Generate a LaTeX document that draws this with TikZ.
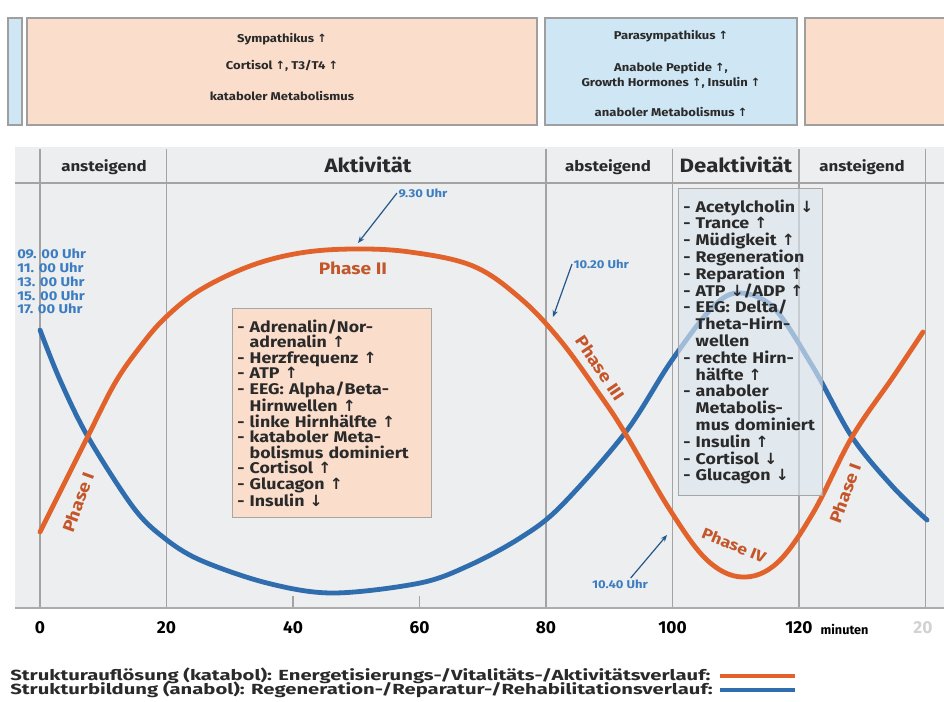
\documentclass[tikz,border=0pt]{standalone}
\usepackage{fontspec}
\setmainfont{Fira Sans}
\newfontfamily\arrowfont{DejaVu Sans}
\newfontfamily\widefont[FakeStretch=1.15]{Fira Sans}
\newfontfamily\legfont[FakeStretch=1.38]{Fira Sans}
\usetikzlibrary{positioning,arrows.meta}

\definecolor{katabol}{HTML}{E2622B}
\definecolor{anabol}{HTML}{2F6DAE}
\definecolor{salmon}{HTML}{FBDDCC}
\definecolor{skyblue}{HTML}{CFE7F5}
\definecolor{panelbg}{HTML}{ECEEEF}
\definecolor{gridgray}{HTML}{A3A3A3}
\definecolor{uhrblue}{HTML}{3C7DC1}
\definecolor{phasebrown}{HTML}{C4562A}
\definecolor{deakfill}{HTML}{DCE5EE}
\definecolor{textdark}{HTML}{2A2A2A}

\newcommand{\hup}{{\arrowfont\char"2191}}
\newcommand{\hdn}{{\arrowfont\char"2193}}
\newcommand{\ind}{\hphantom{- }}

\begin{document}
\begin{tikzpicture}[x=0.75pt, y=-0.75pt,
    topbox/.style={draw=gray!75, line width=1pt},
    toptext/.style={text=textdark, font=\widefont\fontsize{8.5}{9}\selectfont\bfseries},
    headtext/.style={text=textdark, font=\widefont\fontsize{11}{12}\selectfont\bfseries},
    bigheadtext/.style={text=textdark, font=\widefont\fontsize{14.5}{15}\selectfont\bfseries},
    gridline/.style={gridgray, line width=1.2pt},
    numlbl/.style={text=black, font=\fontsize{13}{14}\selectfont\bfseries},
    katline/.style={katabol, line width=3.6pt, line cap=round},
    analine/.style={anabol, line width=3.6pt, line cap=round},
    phasetext/.style={text=phasebrown, font=\widefont\fontsize{12.5}{13}\selectfont\bfseries},
    uhrtext/.style={text=uhrblue, font=\widefont\fontsize{8.5}{9}\selectfont\bfseries},
    uhrarrow/.style={anabol!80!black, line width=0.9pt, -{Stealth[length=5pt,width=4pt]}},
    listbox/.style={draw=gray!70, line width=1pt, align=left, anchor=north west,
      text=textdark, inner xsep=3.5pt, inner ysep=4pt}]

\useasboundingbox (0,0) rectangle (944,701);
\fill[white] (0,0) rectangle (944,701);

\filldraw[topbox, fill=skyblue] (8,18) rectangle (22,125);
\filldraw[topbox, fill=salmon] (27,18) rectangle (537,125);
\filldraw[topbox, fill=skyblue] (545,18) rectangle (797,125);
\filldraw[topbox, fill=salmon] (805,18) rectangle (950,125);

\node[toptext] (symp) at (282,39) {Sympathikus \hup};
\node[toptext] (cort) at (282,66) {Cortisol \hup, T3/T4 \hup};
\node[toptext] (katm) at (282,96) {kataboler Metabolismus};
\node[toptext] (para) at (671,36) {Parasympathikus \hup};
\node[toptext] (pept) at (671,68) {Anabole Peptide \hup,};
\node[toptext] (grow) at (671,83) {Growth Hormones \hup, Insulin \hup};
\node[toptext] (anam) at (671,112) {anaboler Metabolismus \hup};

\fill[panelbg] (15,147) rectangle (944,608);
\draw[gridline] (15,183) -- (944,183);
\foreach \t in {0,20,80,100,120,140}
  \draw[gridline] ({40+6.325*\t},149) -- ({40+6.325*\t},608);
\foreach \t in {40,60}
  \draw[gridline] ({40+6.325*\t},596) -- ({40+6.325*\t},608);
\draw[gray!65, line width=2.2pt] (15,608) -- (944,608);

\node[headtext] (anst1) at (104,167) {ansteigend};
\node[bigheadtext] (akt) at (368,165) {Aktivität};
\node[headtext] (abst) at (608,167) {absteigend};
\node[bigheadtext] (deakt) at (736,165) {Deaktivität};
\node[headtext] (anst2) at (862,167) {ansteigend};

\foreach \t in {0,20,40,60,80,100,120}
  \node[numlbl] (n\t) at ({40+6.325*\t},628) {\t};
\node[numlbl, font=\fontsize{9.5}{10}\selectfont\bfseries, right=-1pt of n120, yshift=-1pt] (minu) {minuten};
\node[numlbl, text=gray!35] (n140) at (923,628) {20};

\node[listbox, fill=salmon, text width=142pt, inner ysep=8.4pt,
  font=\widefont\fontsize{11.6}{11.6}\selectfont\bfseries] (aktbox) at (232,308)
  {- Adrenalin/Nor-\\\ind adrenalin \hup\\- Herzfrequenz \hup\\- ATP \hup\\
   - EEG: Alpha/Beta-\\\ind Hirnwellen \hup\\- linke Hirnhälfte \hup\\
   - kataboler Meta-\\\ind bolismus dominiert\\- Cortisol \hup\\
   - Glucagon \hup\\- Insulin \hdn};

\draw[analine] plot[smooth, tension=0.55] coordinates {(40,330) (60,380) (88,437)
  (133,507) (163,537) (200,560) (267,583) (333,593) (420,583) (470,565) (520,538)
  (560,507) (625,433) (670,363) (710,310) (737,293) (773,307) (813,367) (852,437)
  (893,487) (927,520)};
\draw[katline] plot[smooth, tension=0.6] coordinates {(40,532) (64,484) (88,436)
  (115,383) (140,347) (165,318) (200,290) (250,266) (300,253) (353,249) (410,252)
  (473,266) (520,298) (560,340) (600,395) (625,433) (670,510) (707,560) (742,577)
  (777,563) (813,513) (852,437) (893,377) (923,332)};

\node[listbox, fill=deakfill, fill opacity=0.65, text opacity=1, text width=101pt,
  minimum height=230pt, font=\widefont\fontsize{11.6}{12.6}\selectfont\bfseries] (deakbox) at (678,188)
  {- Acetylcholin \hdn\\- Trance \hup\\- Müdigkeit \hup\\- Regeneration\\
   - Reparation \hup\\- ATP \hdn/ADP \hup\\- EEG: Delta/\\\ind Theta-Hirn-\\\ind wellen\\
   - rechte Hirn-\\\ind hälfte \hup\\- anaboler\\\ind Metabolis-\\\ind mus dominiert\\
   - Insulin \hup\\- Cortisol \hdn\\- Glucagon \hdn};

\node[phasetext] (ph2) at (353,268) {Phase II};
\node[phasetext, rotate=-56] (ph3) at (600,368) {Phase III};
\node[phasetext, rotate=-22, font=\widefont\fontsize{11.5}{12}\selectfont\bfseries] (ph4) at (734,545) {Phase IV};
\node[phasetext, rotate=70] (ph1a) at (78,502) {Phase I};
\node[phasetext, rotate=70] (ph1b) at (845,493) {Phase I};

\node[uhrtext, align=left, anchor=north west, inner sep=0pt,
  font=\widefont\fontsize{9.6}{10.3}\selectfont\bfseries] (uhrs) at (17,249)
  {09. 00 Uhr\\11. 00 Uhr\\13. 00 Uhr\\15. 00 Uhr\\17. 00 Uhr};

\coordinate (c930) at (358,243);
\coordinate (c1020) at (553,317);
\coordinate (c1040) at (667,535);
\node[uhrtext, anchor=west, inner sep=1pt] (t930) at (397,193) {9.30 Uhr};
\node[uhrtext, anchor=west, inner sep=1pt] (t1020) at (572,264) {10.20 Uhr};
\node[uhrtext, inner sep=1pt] (t1040) at (620,584) {10.40 Uhr};
\draw[uhrarrow] (t930.west) -- (c930);
\draw[uhrarrow] (t1020.west) -- (c1020);
\draw[uhrarrow] ([xshift=8pt]t1040.north) -- (c1040);

\node[anchor=west, inner sep=0pt, text=textdark, font=\legfont\fontsize{11}{11}\selectfont\bfseries] (lega) at (10,676)
  {Strukturauflösung (katabol): Energetisierungs-/Vitalitäts-/Aktivitätsverlauf:};
\node[anchor=west, inner sep=0pt, text=textdark, font=\legfont\fontsize{11}{11}\selectfont\bfseries] (legb) at (10,690)
  {Strukturbildung (anabol): Regeneration-/Reparatur-/Rehabilitationsverlauf:};
\coordinate (ka) at (720,676);
\coordinate (kb) at (795,676);
\coordinate (aa) at (720,690);
\coordinate (ab) at (795,690);
\draw[katabol, line width=3.6pt] (ka) -- (kb);
\draw[anabol, line width=3.6pt] (aa) -- (ab);

\end{tikzpicture}
\end{document}
